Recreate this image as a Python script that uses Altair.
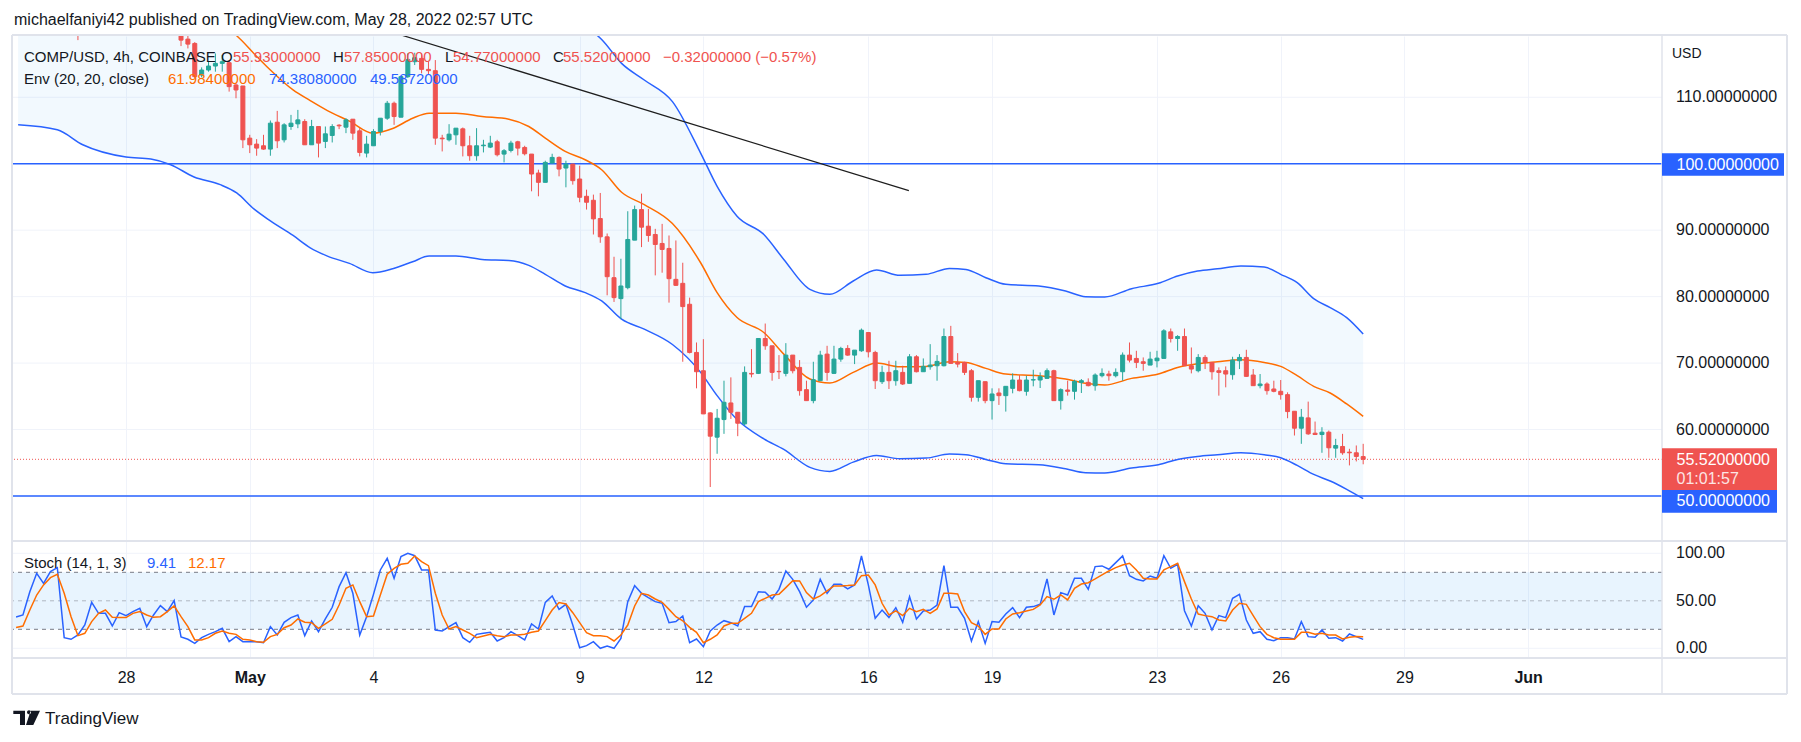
import altair as alt
import pandas as pd

# ---------------- data ----------------
# candle index: 0 = Apr 28 00:00, one step = 4h candle
candle_i = [-7] + list(range(8, 181))
c_open = [124.0,
    119.6, 118.75,
    118.1, 113.35, 114.1, 114.7, 115.1, 115.2, 111.85, 111.7, 103.85, 102.95,
    102.7, 102.2, 106.25, 103.6, 105.6, 106.0, 106.35, 102.85, 105.6, 103.35,
    104.25, 105.8, 105.5, 106.7, 104.95, 101.6, 102.7, 104.85, 106.85, 109.1,
    107.0, 113.1, 115.35, 115.85, 114.2, 114.0, 103.85, 103.6, 104.35, 105.25,
    102.7, 101.2, 102.7, 102.5, 103.3, 101.45, 102.0, 103.3, 102.45, 101.45,
    98.6, 97.2, 100.1, 100.95, 99.35, 99.95, 97.7, 95.1, 94.5, 91.75,
    89.0, 82.85, 79.7, 81.35, 88.5, 93.1, 90.6, 89.35, 88.0, 87.25,
    82.6, 82.0, 78.85, 71.6, 68.85, 62.5, 58.85, 61.5, 64.0, 62.6,
    60.85, 68.45, 68.45, 73.7, 72.6, 68.75, 68.45, 71.2, 69.35, 66.0,
    64.35, 67.35, 71.35, 68.45, 70.6, 72.2, 71.2, 71.85, 74.6, 71.6,
    67.2, 68.6, 67.35, 68.6, 66.95, 70.95, 68.7, 69.45, 69.6, 69.6,
    74.0, 70.1, 70.1, 68.85, 64.85, 67.2, 64.35, 65.5, 65.1, 66.2,
    67.45, 65.75, 67.45, 67.45, 67.7, 68.85, 64.35, 65.95, 65.75, 67.1,
    67.1, 66.6, 68.1, 68.35, 68.1, 68.7, 71.2, 70.7, 70.2, 69.7,
    70.35, 70.7, 74.7, 73.7, 74.0, 69.6, 68.85, 70.85, 70.1, 68.85,
    68.85, 68.25, 70.35, 70.85, 68.2, 66.6, 66.85, 66.1, 65.75, 65.25,
    62.75, 60.2, 61.75, 59.45, 59.25, 59.6, 57.2, 57.45, 56.6, 56.5,
    55.93]
c_high = [125.0,
    120.5, 119.3,
    118.3, 114.5, 115.35, 116.6, 116.35, 115.5, 112.1, 111.7, 104.35, 103.7,
    104.35, 106.5, 107.95, 106.1, 107.35, 108.1, 106.7, 106.6, 105.6, 105.6,
    105.95, 105.95, 106.85, 106.7, 105.35, 104.2, 105.2, 106.85, 109.45, 109.35,
    113.1, 116.6, 116.7, 116.6, 115.35, 115.6, 104.35, 105.95, 105.35, 105.45,
    104.2, 105.35, 103.6, 104.2, 103.6, 102.2, 103.45, 103.45, 102.7, 101.45,
    99.1, 100.45, 101.5, 101.1, 100.45, 99.95, 99.7, 96.1, 95.35, 95.6,
    89.5, 86.0, 85.7, 92.85, 93.7, 95.5, 93.2, 90.2, 90.95, 89.2,
    88.45, 85.1, 79.85, 73.1, 73.6, 62.6, 63.1, 67.35, 67.85, 62.6,
    69.5, 72.1, 73.7, 75.95, 72.6, 71.2, 73.0, 71.2, 70.45, 67.35,
    70.2, 71.85, 72.6, 72.6, 72.45, 72.7, 71.95, 75.2, 74.6, 71.85,
    69.6, 70.35, 70.35, 69.6, 71.35, 71.2, 70.7, 72.85, 71.2, 75.2,
    75.6, 71.5, 70.2, 69.1, 67.35, 67.2, 66.2, 66.2, 66.5, 68.45,
    68.2, 68.1, 69.0, 68.6, 69.2, 69.0, 66.2, 67.35, 67.5, 67.6,
    67.7, 68.45, 69.2, 68.85, 69.2, 71.6, 73.1, 71.85, 70.85, 71.7,
    71.85, 75.1, 75.2, 74.2, 75.2, 72.35, 71.35, 71.2, 70.1, 69.35,
    69.5, 70.95, 71.35, 72.0, 69.1, 68.35, 67.1, 67.35, 67.45, 65.6,
    62.75, 63.1, 64.2, 61.2, 60.35, 59.85, 58.6, 59.35, 57.1, 57.6,
    57.85]
c_low = [118.6,
    117.7, 117.35,
    112.9, 113.0, 113.85, 113.85, 113.85, 110.85, 109.85, 102.35, 101.6, 101.2,
    102.1, 101.2, 102.35, 103.2, 105.1, 105.35, 102.85, 102.85, 100.95, 102.35,
    103.2, 105.2, 104.6, 103.6, 101.1, 100.95, 102.7, 104.25, 106.6, 105.85,
    107.0, 112.9, 114.85, 113.6, 113.35, 102.85, 101.85, 103.35, 102.85, 101.1,
    100.45, 100.45, 101.7, 102.35, 101.1, 100.2, 101.7, 101.25, 101.25, 95.85,
    95.1, 97.2, 100.1, 98.1, 96.45, 96.85, 94.2, 93.1, 89.35, 88.1,
    80.2, 79.2, 76.6, 81.1, 88.5, 87.45, 88.25, 83.2, 83.6, 79.1,
    81.6, 70.2, 71.45, 66.2, 62.35, 51.35, 56.35, 59.35, 61.6, 59.0,
    60.6, 67.85, 68.35, 72.0, 67.35, 67.6, 68.0, 68.45, 65.1, 64.35,
    63.95, 67.35, 67.35, 68.35, 70.2, 71.1, 69.85, 71.7, 70.85, 66.1,
    66.85, 66.1, 66.6, 66.7, 66.95, 68.6, 68.7, 69.0, 67.35, 69.5,
    69.95, 69.35, 68.2, 64.2, 64.2, 63.95, 61.5, 63.7, 62.7, 65.45,
    65.75, 65.1, 66.5, 66.25, 67.6, 64.35, 63.0, 65.1, 64.5, 65.5,
    66.5, 65.85, 67.85, 67.35, 67.85, 67.35, 70.1, 69.25, 68.85, 69.7,
    69.35, 70.7, 73.1, 71.85, 69.6, 68.45, 68.6, 69.1, 67.5, 65.1,
    66.35, 67.5, 69.1, 67.95, 66.6, 66.2, 65.25, 65.6, 64.5, 61.7,
    59.1, 57.85, 59.2, 59.25, 56.5, 55.75, 55.75, 56.2, 54.6, 55.2,
    54.77]
c_close = [122.0,
    118.6, 118.0,
    113.1, 114.1, 114.7, 115.1, 115.35, 111.6, 111.1, 103.6, 102.85, 102.35,
    102.2, 106.1, 103.45, 105.85, 106.1, 106.6, 102.85, 105.6, 103.1, 104.5,
    105.6, 105.7, 106.6, 104.6, 101.7, 102.95, 104.85, 106.85, 109.1, 107.1,
    113.1, 115.7, 115.95, 114.2, 114.0, 103.85, 103.75, 104.45, 105.35, 102.7,
    101.2, 102.7, 102.8, 103.1, 101.35, 101.95, 103.1, 102.35, 101.5, 98.45,
    97.2, 100.2, 100.95, 99.2, 99.95, 97.45, 94.95, 94.2, 91.7, 89.0,
    83.0, 79.85, 81.6, 88.6, 93.1, 90.45, 89.2, 87.85, 87.1, 82.7,
    81.7, 78.5, 71.6, 68.7, 62.35, 59.0, 61.7, 64.1, 62.6, 60.95,
    68.6, 68.35, 73.7, 72.6, 68.6, 68.7, 71.2, 68.85, 65.85, 64.35,
    67.5, 71.2, 68.6, 70.6, 72.2, 71.2, 71.95, 74.95, 71.7, 67.35,
    68.6, 67.35, 68.85, 66.85, 70.95, 68.7, 69.5, 69.7, 70.25, 74.0,
    69.95, 69.85, 68.6, 64.85, 67.35, 64.35, 65.35, 65.1, 66.5, 67.45,
    65.85, 67.45, 67.5, 67.95, 68.85, 64.35, 66.0, 65.75, 67.25, 67.35,
    66.6, 68.2, 68.45, 68.1, 68.6, 71.2, 70.45, 70.1, 69.95, 70.6,
    70.75, 74.85, 73.7, 74.0, 69.6, 69.1, 70.85, 70.1, 68.7, 68.6,
    68.35, 70.45, 70.85, 68.0, 66.6, 66.85, 65.85, 65.75, 65.25, 62.7,
    60.2, 61.85, 59.35, 59.25, 59.6, 57.25, 57.6, 56.5, 56.5, 55.95,
    55.52]

# envelope (20, 20, close) read at sample candle positions
band_i = [-15.7, -10, -6.3, 0, 3.6, 6.5, 9.9, 13.7, 16.1, 18.6,
          21, 24.3, 26.8, 29.3, 32.5, 35.9, 38.8, 41.7, 44.1, 48,
          51.8, 55.7, 58.6, 61, 63.9, 66.8, 69.2, 72.1, 75.4, 79.5,
          83.6, 86, 88.9, 92.8, 95.7, 99.5, 102.4, 105.8, 109.2, 112.6,
          116.4, 119.8, 122.2, 125.1, 128, 132.8, 136.7, 139.6, 142.4, 146.3,
          150.2, 153, 155.9, 158.8, 162.2, 165.6, 168, 170.4, 172.8, 175.2,
          177.6, 180]
band_upper = [158.8, 157.7, 154.3, 151.4, 151.1, 149.8, 147.0, 145.2, 143.1, 139.9,
              136.9, 133.3, 131.4, 129.6, 127.7, 125.5, 126.4, 128.2, 129.1, 129.1,
              128.5, 128.0, 126.7, 124.6, 122.2, 120.7, 118.7, 115.1, 112.6, 109.35,
              101.6, 96.6, 92.1, 89.35, 85.6, 81.1, 80.35, 82.35, 84.0, 83.2,
              83.35, 84.25, 84.1, 82.85, 81.85, 81.6, 80.85, 80.0, 79.95, 81.2,
              82.0, 83.1, 83.85, 84.2, 84.6, 84.45, 83.35, 82.1, 79.7, 78.35,
              76.85, 74.38]
band_basis = [132.3, 131.4, 128.6, 126.2, 125.9, 124.8, 122.5, 121.0, 119.25, 116.6,
              114.1, 111.1, 109.5, 108.0, 106.4, 104.6, 105.3, 106.85, 107.6, 107.6,
              107.1, 106.7, 105.6, 103.85, 101.85, 100.6, 99.1, 95.7, 93.85, 91.0,
              85.1, 80.6, 76.85, 74.6, 71.35, 67.6, 67.0, 68.6, 70.0, 69.45,
              69.5, 70.2, 70.1, 69.2, 68.35, 68.1, 67.6, 66.95, 66.7, 67.7,
              68.35, 69.35, 69.9, 70.2, 70.5, 70.1, 69.5, 68.1, 66.5, 65.5,
              63.85, 61.98]
band_lower = [105.85, 105.1, 102.85, 101.0, 100.7, 99.85, 98.0, 96.85, 95.6, 93.2,
              91.4, 89.2, 87.35, 86.1, 85.0, 83.6, 84.2, 85.25, 86.1, 86.1,
              85.6, 85.45, 84.7, 83.35, 81.6, 80.6, 79.35, 76.6, 75.1, 72.8,
              68.6, 65.1, 61.5, 58.6, 57.0, 54.3, 53.7, 55.1, 56.1, 55.6,
              55.7, 56.3, 56.2, 55.5, 54.85, 54.7, 54.1, 53.5, 53.45, 54.2,
              54.7, 55.5, 55.95, 56.2, 56.5, 56.2, 55.75, 54.6, 53.25, 52.25,
              51.0, 49.59]

# stochastic (14, 1, 3)
stoch_i = list(range(-16, 181))
stoch_k = [33.0,
    35.1, 59.6, 79.0, 68.4, 80.7, 84.9, 11.2, 9.5, 14.0, 24.5,
    48.4, 36.8, 36.8, 23.5, 37.5, 34.4, 38.6, 42.1, 22.8, 35.1,
    44.9, 38.6, 50.2, 11.9, 9.5, 5.2, 11.2, 14.7, 17.5, 21.0,
    7.0, 12.3, 7.0, 7.0, 7.0, 5.9, 22.8, 14.0, 27.4, 32.3,
    35.1, 13.3, 28.8, 17.5, 30.9, 43.2, 64.9, 79.6, 57.9, 14.0,
    33.3, 56.8, 82.5, 94.7, 73.7, 96.5, 100.0, 97.5, 82.5, 82.5,
    19.3, 18.2, 22.8, 27.0, 11.2, 6.3, 14.7, 15.8, 16.8, 7.7,
    11.2, 17.5, 13.3, 8.8, 25.6, 20.3, 48.4, 55.1, 41.0, 46.3,
    24.5, 0.5, 2.8, 7.0, 0.0, 2.4, 0.0, 10.5, 49.1, 66.0,
    57.9, 53.3, 49.1, 47.4, 27.0, 28.1, 34.0, 5.9, 9.8, 1.7,
    18.2, 24.5, 29.1, 27.0, 23.5, 43.9, 43.9, 59.6, 59.0, 51.9,
    62.1, 81.4, 72.6, 59.6, 43.2, 50.9, 72.6, 57.9, 67.4, 67.4,
    62.5, 66.7, 97.2, 66.7, 31.6, 40.3, 32.3, 42.8, 27.4, 54.4,
    30.9, 39.3, 40.3, 45.6, 87.0, 43.2, 43.2, 31.6, 7.7, 28.1,
    5.2, 28.1, 27.4, 36.1, 42.8, 32.3, 43.2, 43.9, 46.3, 73.0,
    35.1, 58.6, 56.1, 73.7, 73.7, 62.1, 86.0, 86.7, 83.2, 90.2,
    97.2, 76.5, 72.6, 70.9, 76.1, 73.7, 97.5, 84.2, 88.4, 39.6,
    23.5, 44.9, 36.8, 19.3, 34.4, 32.3, 52.6, 56.8, 29.8, 15.8,
    17.5, 9.5, 8.0, 11.2, 11.2, 9.8, 28.1, 12.3, 11.6, 19.3,
    10.5, 11.2, 7.7, 15.1, 12.3, 9.41]
stoch_d = [22.0,
    23.5, 40.3, 56.1, 66.7, 74.4, 77.9, 57.9, 33.3, 13.3, 15.8,
    28.1, 36.8, 40.3, 32.6, 32.3, 32.3, 36.8, 38.6, 35.1, 32.6,
    33.3, 38.6, 44.6, 33.3, 22.8, 8.8, 8.8, 11.2, 15.8, 18.2,
    15.8, 14.7, 9.5, 8.8, 7.0, 6.3, 12.3, 14.7, 21.7, 24.5,
    30.9, 27.4, 27.0, 21.0, 25.6, 30.5, 45.6, 63.2, 66.7, 49.1,
    33.3, 34.0, 56.1, 77.9, 84.2, 88.4, 89.5, 97.2, 91.2, 87.0,
    57.9, 35.1, 20.3, 22.8, 19.3, 15.8, 11.2, 13.0, 14.7, 13.3,
    12.3, 14.0, 14.0, 14.7, 16.8, 18.2, 29.1, 40.3, 48.1, 46.7,
    37.5, 27.0, 16.5, 13.3, 13.3, 12.3, 7.7, 14.0, 24.5, 44.6,
    57.9, 56.1, 51.9, 48.4, 41.0, 33.3, 29.0, 22.0, 16.8, 5.9,
    9.5, 14.0, 23.5, 26.3, 26.3, 31.6, 36.8, 49.1, 52.6, 56.1,
    56.8, 63.9, 71.2, 70.9, 58.6, 51.9, 55.1, 60.4, 65.6, 65.6,
    66.0, 66.7, 76.5, 77.2, 66.7, 47.4, 35.1, 39.3, 34.4, 42.1,
    38.6, 41.0, 36.8, 41.4, 57.9, 57.9, 57.2, 38.6, 27.0, 23.5,
    14.7, 20.3, 20.3, 30.9, 36.1, 37.5, 39.3, 41.0, 45.6, 54.4,
    51.6, 56.1, 50.9, 63.2, 67.7, 69.1, 73.0, 77.2, 81.4, 84.9,
    87.7, 89.5, 82.5, 73.7, 73.0, 73.0, 82.5, 86.0, 89.5, 70.2,
    51.9, 36.1, 34.4, 33.3, 29.8, 28.8, 40.3, 47.4, 46.3, 34.4,
    22.8, 14.7, 11.2, 9.5, 9.5, 9.5, 16.8, 16.8, 14.7, 15.8,
    14.0, 14.0, 9.8, 11.6, 12.3, 12.17]

# drawn trend line (candle index, price)
trend_i = [30, 113.9]
trend_p = [122.55, 95.95]

# horizontal levels
level_prices = [100, 50]
last_close = [55.52]
price_grid = [50, 60, 70, 80, 90, 100, 110]
price_labels = [110, 90, 80, 70, 60]
stoch_grid = [0, 100]
stoch_labels = [100, 50, 0]

# date axis
x_tick_i = [0, 18, 36, 66, 84, 108, 126, 150, 168, 186, 204]
x_tick_text = ["28", "May", "4", "9", "12", "16", "19", "23", "26", "29", "Jun"]

# ---------------- layout constants ----------------
W, H = 1649, 622
X_DOM = [-15.72, 222.75]
P_DOM = [25.62, 119.22]
S_DOM = [-10.2, 644.5]
FONT = "Liberation Sans"
TXT = "#131722"
BLUE = "#2962ff"
ORANGE = "#ff6d00"
RED = "#ef5350"
GREEN = "#26a69a"
FRAME = "#e0e3eb"
GRID = "#f0f3fa"

xs = alt.Scale(domain=X_DOM, nice=False, zero=False)
ps = alt.Scale(domain=P_DOM, nice=False, zero=False)
ss = alt.Scale(domain=S_DOM, nice=False, zero=False)

label_expr = " : ".join(f"datum.value == {v} ? '{t}'" for v, t in zip(x_tick_i, x_tick_text)) + " : ''"
xaxis = alt.Axis(values=x_tick_i, labelExpr=label_expr, title=None, grid=True,
                 gridColor=GRID, gridWidth=1, domain=False, ticks=False, tickSize=0,
                 labelPadding=19, labelBaseline="middle", labelFontSize=16,
                 labelColor=TXT, labelFont=FONT, labelOverlap=False, labelFlush=False,
                 labelFontWeight={"condition": {"test": "datum.value == 18 || datum.value == 204",
                                                "value": "bold"}, "value": "normal"})


def X(f):
    return alt.X(f, type="quantitative", scale=xs, axis=xaxis)


def YP(f):
    return alt.Y(f, type="quantitative", scale=ps, axis=None)


def YS(f):
    return alt.Y(f, type="quantitative", scale=ss, axis=None)


df_c = pd.DataFrame({"i": candle_i, "o": c_open, "h": c_high, "l": c_low, "c": c_close})
df_c["d"] = ["up" if c >= o else "down" for o, c in zip(c_open, c_close)]
df_band = pd.DataFrame({"bi": band_i, "hi": band_upper, "mid": band_basis, "lo": band_lower})
df_st = pd.DataFrame({"si": stoch_i, "k": stoch_k, "d": stoch_d})
df_tr = pd.DataFrame({"ti": trend_i, "tp": trend_p})

dir_scale = alt.Scale(domain=["up", "down"], range=[GREEN, RED])

# ---------------- price panel ----------------
price_layers = [
    alt.Chart(pd.DataFrame({"v": price_grid})).mark_rule(color=GRID, strokeWidth=1).encode(y=YP("v")),
    alt.Chart(df_band).mark_area(color="#2196f3", opacity=0.06, clip=True, interpolate="monotone").encode(
        x=X("bi"), y=YP("lo"), y2="hi:Q"),
    alt.Chart(pd.DataFrame({"v": level_prices})).mark_rule(color=BLUE, strokeWidth=1.5).encode(y=YP("v")),
    alt.Chart(pd.DataFrame({"v": last_close})).mark_rule(color=RED, strokeWidth=1, strokeDash=[1, 2]).encode(y=YP("v")),
    alt.Chart(df_band).mark_line(color=BLUE, strokeWidth=1.5, clip=True, interpolate="monotone").encode(x=X("bi"), y=YP("hi")),
    alt.Chart(df_band).mark_line(color=BLUE, strokeWidth=1.5, clip=True, interpolate="monotone").encode(x=X("bi"), y=YP("lo")),
    alt.Chart(df_band).mark_line(color=ORANGE, strokeWidth=1.5, clip=True, interpolate="monotone").encode(x=X("bi"), y=YP("mid")),
    alt.Chart(df_tr).mark_line(color="#1e1e1e", strokeWidth=1.2, clip=True).encode(x=X("ti"), y=YP("tp")),
    alt.Chart(df_c).mark_rule(strokeWidth=1, clip=True).encode(
        x=X("i"), y=YP("l"), y2="h:Q", color=alt.Color("d:N", scale=dir_scale, legend=None)),
    alt.Chart(df_c).mark_bar(width=4, strokeWidth=1, clip=True).encode(
        x=X("i"), y=YP("o"), y2="c:Q",
        color=alt.Color("d:N", scale=dir_scale, legend=None),
        stroke=alt.Stroke("d:N", scale=dir_scale, legend=None)),
    alt.Chart(pd.DataFrame({"v": price_labels})).mark_text(
        align="left", baseline="middle", fontSize=16, color=TXT, font=FONT).encode(
        x=alt.value(1663), y=YP("v"), text=alt.Text("v:Q", format=".8f")),
]
price = alt.layer(*price_layers)

# ---------------- stochastic panel ----------------
stoch_layers = [
    alt.Chart(pd.DataFrame({"a": [80], "b": [20]})).mark_rect(color="#2196f3", opacity=0.1).encode(
        x=alt.value(0), x2=alt.value(W), y=YS("a"), y2="b:Q"),
    alt.Chart(pd.DataFrame({"v": stoch_grid})).mark_rule(color=GRID, strokeWidth=1).encode(y=YS("v")),
    alt.Chart(pd.DataFrame({"v": [80, 20]})).mark_rule(color="#787b86", strokeWidth=1, strokeDash=[4, 4]).encode(y=YS("v")),
    alt.Chart(pd.DataFrame({"v": [50]})).mark_rule(color="#787b86", opacity=0.5, strokeWidth=1, strokeDash=[4, 4]).encode(y=YS("v")),
    alt.Chart(df_st).mark_line(color=BLUE, strokeWidth=1.5, clip=True).encode(x=X("si"), y=YS("k")),
    alt.Chart(df_st).mark_line(color=ORANGE, strokeWidth=1.5, clip=True).encode(x=X("si"), y=YS("d")),
    alt.Chart(pd.DataFrame({"v": stoch_labels})).mark_text(
        align="left", baseline="middle", fontSize=16, color=TXT, font=FONT).encode(
        x=alt.value(1663), y=YS("v"), text=alt.Text("v:Q", format=".2f")),
]
stoch = alt.layer(*stoch_layers)

# ---------------- decorations (frame, labels, legends) ----------------
dummy = pd.DataFrame({"z": [0]})


def hrule(x1, x2, y, color=FRAME, w=2):
    return alt.Chart(dummy).mark_rule(color=color, strokeWidth=w).encode(
        x=alt.value(x1), x2=alt.value(x2), y=alt.value(y))


def vrule(x, y1, y2, color=FRAME, w=2):
    return alt.Chart(dummy).mark_rule(color=color, strokeWidth=w).encode(
        x=alt.value(x), y=alt.value(y1), y2=alt.value(y2))


def box(x1, x2, y1, y2, color):
    return alt.Chart(dummy).mark_rect(color=color).encode(
        x=alt.value(x1), x2=alt.value(x2), y=alt.value(y1), y2=alt.value(y2))


def txt(x, y, s, color=TXT, size=15, weight="normal", opacity=1.0):
    return alt.Chart(dummy).mark_text(text=s, align="left", baseline="middle", fontSize=size,
                                      fontWeight=weight, color=color, font=FONT, opacity=opacity).encode(
        x=alt.value(x), y=alt.value(y))


logo_path = ("M-0.893,-0.487H-0.113V0.467H-0.447V-0.267H-0.893Z "
             "M0.02,-0.38A0.133,0.133,0,1,0,0.287,-0.38A0.133,0.133,0,1,0,0.02,-0.38Z "
             "M0.267,-0.487H0.887L0.44,0.467H-0.047Z")

deco_layers = [
    hrule(-1, 1774, -1), hrule(-1, 1774, 658), vrule(-1, -1, 658), vrule(1774, -1, 658),
    vrule(1649, -1, 658, w=1.5), hrule(-1, 1774, 505), hrule(-1, 1774, 622),
    box(1649, 1771, 117.3, 139.7, BLUE),
    box(1649, 1764, 412.3, 454, RED),
    box(1649, 1764, 454, 476.7, BLUE),
    txt(1663.5, 128.5, "100.00000000", "white", 16),
    txt(1663.5, 424, "55.52000000", "white", 16),
    txt(1663.5, 443.3, "01:01:57", "white", 16, opacity=0.85),
    txt(1663.5, 465.3, "50.00000000", "white", 16),
    txt(1659, 18.3, "USD", TXT, 14),
    txt(1, -16, "michaelfaniyi42 published on TradingView.com, May 28, 2022 02:57 UTC", TXT, 16),
    txt(11, 20.7, "COMP/USD, 4h, COINBASE"),
    txt(208, 20.7, "O"), txt(220, 20.7, "55.93000000", RED),
    txt(320, 20.7, "H"), txt(331, 20.7, "57.85000000", RED),
    txt(432, 20.7, "L"), txt(440, 20.7, "54.77000000", RED),
    txt(540, 20.7, "C"), txt(550, 20.7, "55.52000000", RED),
    txt(650, 20.7, "\u22120.32000000 (\u22120.57%)", RED),
    txt(11, 43.3, "Env (20, 20, close)"),
    txt(155, 43.3, "61.98400000", ORANGE),
    txt(256, 43.3, "74.38080000", BLUE),
    txt(357, 43.3, "49.58720000", BLUE),
    txt(11, 527.3, "Stoch (14, 1, 3)"),
    txt(134, 527.3, "9.41", BLUE),
    txt(175, 527.3, "12.17", ORANGE),
    alt.Chart(dummy).mark_point(shape=logo_path, size=900, filled=True, color=TXT,
                                opacity=1, strokeWidth=0).encode(x=alt.value(13.7), y=alt.value(682)),
    txt(32, 683, "TradingView", TXT, 17),
]
deco = alt.layer(*deco_layers)

chart = alt.layer(price, stoch, deco).resolve_scale(y="independent").properties(
    width=W, height=H,
    padding={"left": 13, "top": 36, "right": 139, "bottom": 84},
    autosize=alt.AutoSizeParams(type="none"),
    background="white",
).configure(font=FONT).configure_view(stroke=None)

chart.save("out.html", embed_options={"renderer": "svg", "actions": False})
